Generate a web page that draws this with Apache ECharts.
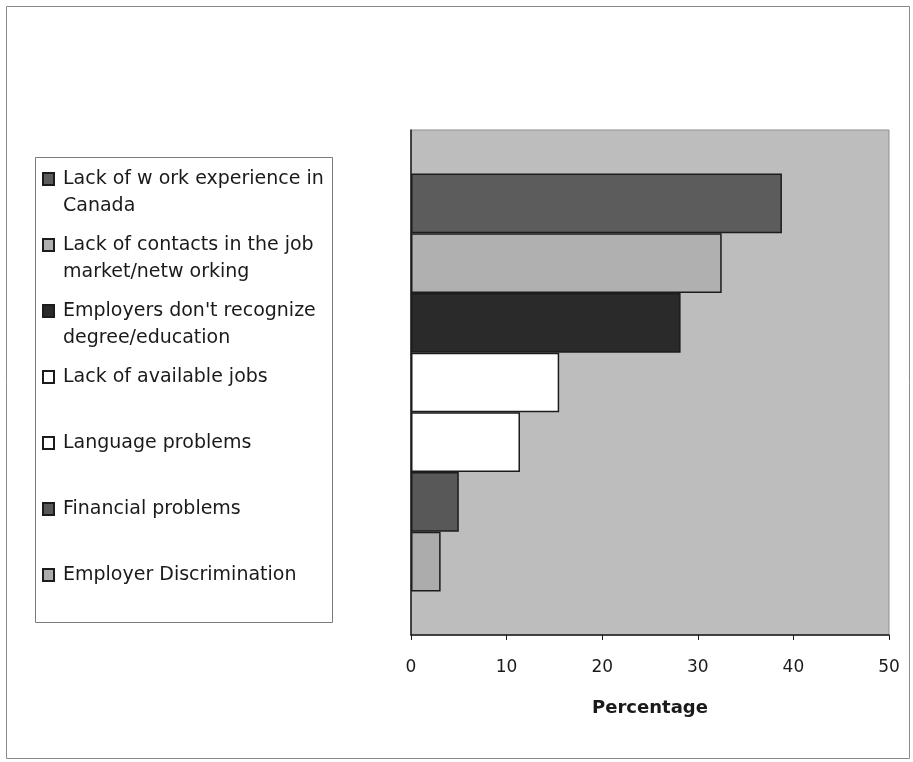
<!DOCTYPE html>
<html>
<head>
<meta charset="utf-8">
<script src="https://cdn.jsdelivr.net/npm/echarts@6/dist/echarts.min.js"></script>
<style>
  html, body { margin: 0; padding: 0; background: #ffffff; }
  #chart { width: 913px; height: 762px; }
</style>
</head>
<body>
<div id="chart"></div>
<script>
// Barriers to finding work, share of respondents (%)
const categories = ['Barriers'];
const barrierNames = [
  'Lack of w ork experience in\nCanada',
  'Lack of contacts in the job\nmarket/netw orking',
  'Employers don\'t recognize\ndegree/education',
  'Lack of available jobs',
  'Language problems',
  'Financial problems',
  'Employer Discrimination'
];
const barrierValues = [38.8, 32.5, 28.2, 15.5, 11.4, 5.0, 3.1];
const barColors = ['#5c5c5c', '#b0b0b0', '#2a2a2a', '#ffffff', '#ffffff', '#585858', '#acacac'];
const xTickValues = [0, 10, 20, 30, 40, 50];

const FONT = 'DejaVu Sans';
const legendFirstLine = [179, 245, 311, 377, 443, 509, 575];
const LINE_H = 27;
const ICON_H = 12;

const series = barrierNames.map((name, i) => ({
  name: name,
  type: 'bar',
  data: [barrierValues[i]],
  barGap: '0%',
  barCategoryGap: '17.2%',
  itemStyle: { color: barColors[i], borderColor: '#1c1c1c', borderWidth: 1.5 },
  emphasis: { disabled: true },
  animation: false
}));

// one legend block per barrier so each entry keeps its own row;
// wrapped entries get a blank leading line so the marker sits beside the first line
const legends = barrierNames.map((name, i) => {
  const twoLines = name.indexOf('\n') >= 0;
  return {
    data: [name],
    formatter: (n) => (twoLines ? ' \n' + n : n),
    orient: 'vertical',
    left: 42,
    top: legendFirstLine[i] - (twoLines ? LINE_H * 1.5 : LINE_H / 2),
    padding: 0,
    itemWidth: 11,
    itemHeight: ICON_H,
    icon: 'rect',
    selectedMode: false,
    textStyle: {
      fontFamily: FONT,
      fontSize: 19,
      color: '#1a1a1a',
      lineHeight: LINE_H,
      padding: [0, 0, 0, 4]
    }
  };
});

const chart = echarts.init(document.getElementById('chart'), null, { renderer: 'canvas' });
chart.setOption({
  backgroundColor: '#ffffff',
  animation: false,
  graphic: [
    { type: 'rect', shape: { x: 6.5, y: 6.5, width: 903, height: 752 },
      style: { fill: 'none', stroke: '#8a8a8a', lineWidth: 1 }, silent: true, z: -10 },
    { type: 'rect', shape: { x: 35.5, y: 157.5, width: 297, height: 465 },
      style: { fill: '#ffffff', stroke: '#7a7a7a', lineWidth: 1 }, silent: true, z: -5 }
  ],
  legend: legends,
  grid: {
    left: 411, right: 24, top: 130, bottom: 127,
    show: true, backgroundColor: '#bdbdbd', borderColor: '#8f8f8f', borderWidth: 1
  },
  xAxis: {
    type: 'value',
    min: xTickValues[0],
    max: xTickValues[xTickValues.length - 1],
    interval: xTickValues[1] - xTickValues[0],
    name: 'Percentage',
    nameLocation: 'middle',
    nameGap: 64,
    nameTextStyle: { fontFamily: FONT, fontSize: 18, fontWeight: 'bold', color: '#1a1a1a' },
    axisLine: { show: true, lineStyle: { color: '#1a1a1a', width: 1.5 } },
    axisTick: { show: true, length: 5, lineStyle: { color: '#1a1a1a' } },
    axisLabel: { fontFamily: FONT, fontSize: 17, color: '#1a1a1a', margin: 24 },
    splitLine: { show: false }
  },
  yAxis: {
    type: 'category',
    data: categories,
    inverse: true,
    axisLine: { show: true, lineStyle: { color: '#1a1a1a', width: 1.5 } },
    axisTick: { show: false },
    axisLabel: { show: false }
  },
  series: series
});
</script>
</body>
</html>
